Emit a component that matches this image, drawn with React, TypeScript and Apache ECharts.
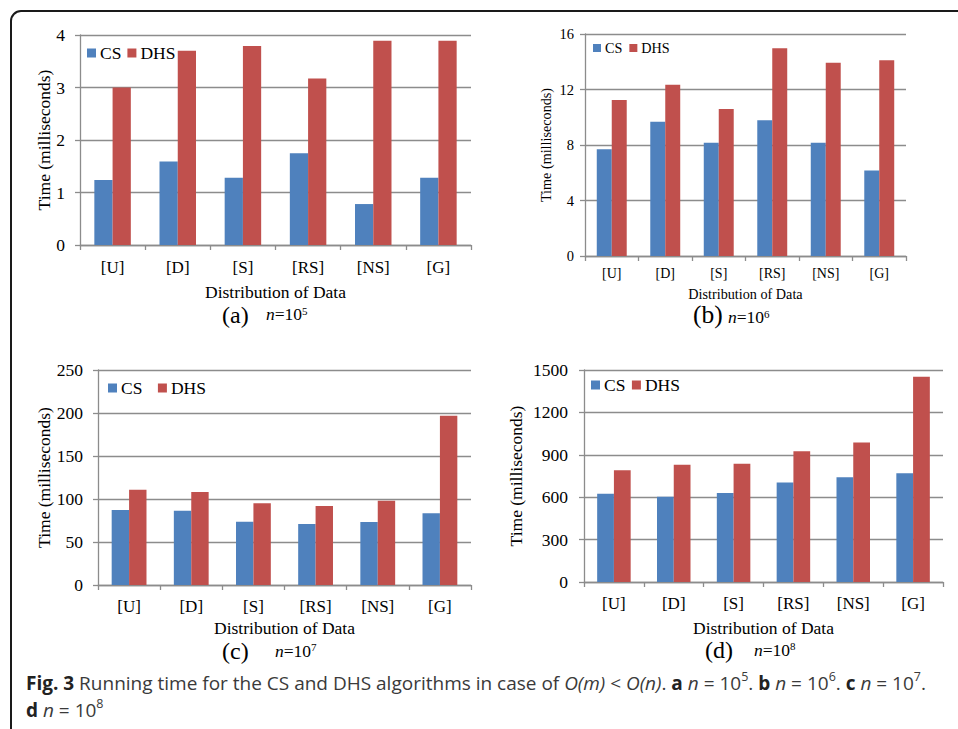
import React, { useEffect, useRef } from 'react';
import * as echarts from 'echarts';

const categories = ['[U]', '[D]', '[S]', '[RS]', '[NS]', '[G]'];
const seriesNames = ['CS', 'DHS'];

const csA = [1.24, 1.59, 1.28, 1.75, 0.78, 1.28];
const dhsA = [3.0, 3.7, 3.79, 3.17, 3.89, 3.89];
const csB = [7.7, 9.67, 8.16, 9.79, 8.16, 6.16];
const dhsB = [11.24, 12.34, 10.59, 14.97, 13.93, 14.1];
const csC = [87.2, 86.4, 73.6, 70.9, 73.3, 83.3];
const dhsC = [110.9, 108.1, 95.0, 91.9, 98.1, 196.9];
const csD = [624, 603, 629, 704, 742, 770];
const dhsD = [791, 829, 836, 925, 987, 1453];

const yMaxes = [4, 16, 250, 1500];
const yIntervals = [1, 4, 50, 300];
const panelLetters = ['(a)', '(b)', '(c)', '(d)'];
const exponents = ['5', '6', '7', '8'];

const yTitle = 'Time (milliseconds)';
const xTitle = 'Distribution of Data';

const SERIF = '"Liberation Serif", "Times New Roman", serif';
const SANS = '"Open Sans", "Noto Sans", sans-serif';
const BLUE = '#4F81BD';
const RED = '#C0504D';
const GRID_COLOR = '#8c8c8c';

const layouts = [
  { grid: { left: 80, top: 35, width: 391, height: 210 }, fs: 17, nfs: 17.5, legend: { left: 87, top: 44, gap: 6, size: 9 }, yLM: 15, xLM: 13.5, yNG: 27, xNG: 38,
    letter: { x: 222, y: 315, fs: 24 }, nlab: { x: 266, y: 314, fs: 17.5 } },
  { grid: { left: 585, top: 34, width: 321, height: 222 }, fs: 14, nfs: 14.2, legend: { left: 593, top: 41, gap: 7, size: 8 }, yLM: 11, xLM: 10.5, yNG: 32, xNG: 31,
    letter: { x: 693, y: 314, fs: 25.5 }, nlab: { x: 728, y: 317, fs: 17.5 } },
  { grid: { left: 98, top: 370, width: 373, height: 215 }, fs: 17, nfs: 17.5, legend: { left: 108, top: 379, gap: 15.5, size: 9 }, yLM: 15, xLM: 12.5, yNG: 45, xNG: 34,
    letter: { x: 222, y: 651, fs: 24 }, nlab: { x: 275, y: 650.5, fs: 17.5 } },
  { grid: { left: 584, top: 370, width: 359, height: 212 }, fs: 17, nfs: 17.5, legend: { left: 591, top: 376, gap: 6.5, size: 9 }, yLM: 16, xLM: 13, yNG: 59, xNG: 37,
    letter: { x: 705, y: 650, fs: 24 }, nlab: { x: 754, y: 649.5, fs: 17.5 } },
];

const csData = [csA, csB, csC, csD];
const dhsData = [dhsA, dhsB, dhsC, dhsD];

function buildOption() {
  const grid: any[] = [];
  const xAxis: any[] = [];
  const yAxis: any[] = [];
  const series: any[] = [];
  const legend: any[] = [];
  const graphic: any[] = [];

  layouts.forEach((L, i) => {
    grid.push({ ...L.grid, containLabel: false, outerBoundsMode: 'none' });
    xAxis.push({
      type: 'category',
      gridIndex: i,
      data: categories,
      boundaryGap: true,
      name: xTitle,
      nameLocation: 'middle',
      nameGap: L.xNG,
      nameMoveOverlap: false,
      nameTextStyle: { fontFamily: SERIF, fontSize: L.nfs, color: '#000', lineHeight: L.nfs },
      axisLine: { show: true, lineStyle: { color: GRID_COLOR, width: 1.3 } },
      axisTick: { show: true, length: 5, lineStyle: { color: GRID_COLOR, width: 1.3 } },
      axisLabel: { fontFamily: SERIF, fontSize: L.fs, color: '#000', margin: L.xLM, interval: 0 },
    });
    yAxis.push({
      type: 'value',
      gridIndex: i,
      min: 0,
      max: yMaxes[i],
      interval: yIntervals[i],
      name: yTitle,
      nameLocation: 'middle',
      nameGap: L.yNG,
      nameMoveOverlap: false,
      nameTextStyle: { fontFamily: SERIF, fontSize: L.nfs, color: '#000' },
      axisLine: { show: true, lineStyle: { color: GRID_COLOR, width: 1.3 } },
      axisTick: { show: true, length: 5, lineStyle: { color: GRID_COLOR, width: 1.3 } },
      splitLine: { show: true, lineStyle: { color: GRID_COLOR, width: 1.3 } },
      axisLabel: {
        fontFamily: SERIF, fontSize: L.fs + 0.5, color: '#000', margin: L.yLM,
        formatter: (v: number) => String(v),
      },
    });
    series.push({
      type: 'bar', name: seriesNames[0], xAxisIndex: i, yAxisIndex: i, data: csData[i],
      itemStyle: { color: BLUE }, barGap: '0%', barCategoryGap: '44%',
    });
    series.push({
      type: 'bar', name: seriesNames[1], xAxisIndex: i, yAxisIndex: i, data: dhsData[i],
      itemStyle: { color: RED }, barGap: '0%', barCategoryGap: '44%',
    });
    legend.push({
      data: seriesNames,
      left: L.legend.left,
      top: L.legend.top,
      padding: 0,
      orient: 'horizontal',
      icon: 'rect',
      itemWidth: L.legend.size,
      itemHeight: L.legend.size,
      itemGap: L.legend.gap,
      textStyle: { fontFamily: SERIF, fontSize: L.nfs, color: '#000', padding: [0, 0, 0, -1] },
    });
    graphic.push({
      type: 'text',
      x: L.letter.x,
      y: L.letter.y,
      silent: true,
      style: {
        text: panelLetters[i],
        fontFamily: SERIF,
        fontSize: L.letter.fs,
        lineHeight: 18,
        fill: '#000',
        align: 'left', textAlign: 'left',
        verticalAlign: 'middle', textVerticalAlign: 'middle',
      },
    });
    graphic.push({
      type: 'text',
      x: L.nlab.x,
      y: L.nlab.y,
      silent: true,
      style: {
        text: '{i|n}{r|=10}{s|' + exponents[i] + '}',
        fontFamily: SERIF,
        fontSize: L.nlab.fs,
        fill: '#000',
        align: 'left', textAlign: 'left',
        verticalAlign: 'middle', textVerticalAlign: 'middle',
        rich: {
          i: { fontFamily: SERIF, fontStyle: 'italic', fontSize: L.nlab.fs, lineHeight: 18, fill: '#000', color: '#000' },
          r: { fontFamily: SERIF, fontSize: L.nlab.fs, lineHeight: 18, fill: '#000', color: '#000' },
          s: { fontFamily: SERIF, fontSize: 11, lineHeight: 10, verticalAlign: 'top', fill: '#000', color: '#000' },
        },
      },
    });
  });

  const CFS = 19;
  const capRich = {
    b: { fontFamily: SANS, fontWeight: 'bold', fontSize: CFS, lineHeight: 26, color: '#222', fill: '#222' },
    i: { fontFamily: SANS, fontStyle: 'italic', fontSize: CFS, lineHeight: 26, color: '#3a3a3a', fill: '#3a3a3a' },
    t: { fontFamily: SANS, fontSize: CFS, lineHeight: 26, color: '#3a3a3a', fill: '#3a3a3a' },
    s: { fontFamily: SANS, fontSize: 12.5, lineHeight: 14, verticalAlign: 'top', color: '#3a3a3a', fill: '#3a3a3a' },
  };

  graphic.push({
    type: 'rect',
    silent: true,
    shape: { x: 11, y: 11, width: 990, height: 760, r: [10, 0, 0, 0] },
    style: { fill: 'none', stroke: '#1a1a1a', lineWidth: 2 },
  });
  graphic.push({
    type: 'text',
    x: 26,
    y: 683,
    silent: true,
    style: {
      text:
        '{b|Fig. 3}{t| Running time for the CS and DHS algorithms in case of }{i|O(m)}{t| < }{i|O(n)}{t|. }{b|a}{t| }{i|n}{t| = 10}{s|5}{t|. }{b|b}{t| }{i|n}{t| = 10}{s|6}{t|. }{b|c}{t| }{i|n}{t| = 10}{s|7}{t|.}',
      fontFamily: SANS,
      fontSize: CFS,
      lineHeight: 26,
      fill: '#3a3a3a',
      align: 'left', textAlign: 'left',
      verticalAlign: 'middle', textVerticalAlign: 'middle',
      rich: capRich,
    },
  });
  graphic.push({
    type: 'text',
    x: 26,
    y: 710,
    silent: true,
    style: {
      text: '{b|d}{t| }{i|n}{t| = 10}{s|8}',
      fontFamily: SANS,
      fontSize: CFS,
      lineHeight: 26,
      fill: '#3a3a3a',
      align: 'left', textAlign: 'left',
      verticalAlign: 'middle', textVerticalAlign: 'middle',
      rich: capRich,
    },
  });

  return {
    animation: false,
    backgroundColor: '#ffffff',
    grid,
    xAxis,
    yAxis,
    series,
    legend,
    graphic,
  };
}

export default function App() {
  const ref = useRef<HTMLDivElement>(null);
  useEffect(() => {
    document.body.style.margin = '0';
    if (!ref.current) return;
    const chart = echarts.init(ref.current, null, { renderer: 'svg' });
    chart.setOption(buildOption() as any);
    return () => {
      chart.dispose();
    };
  }, []);
  return <div ref={ref} style={{ width: 958, height: 729, background: '#fff' }} />;
}
